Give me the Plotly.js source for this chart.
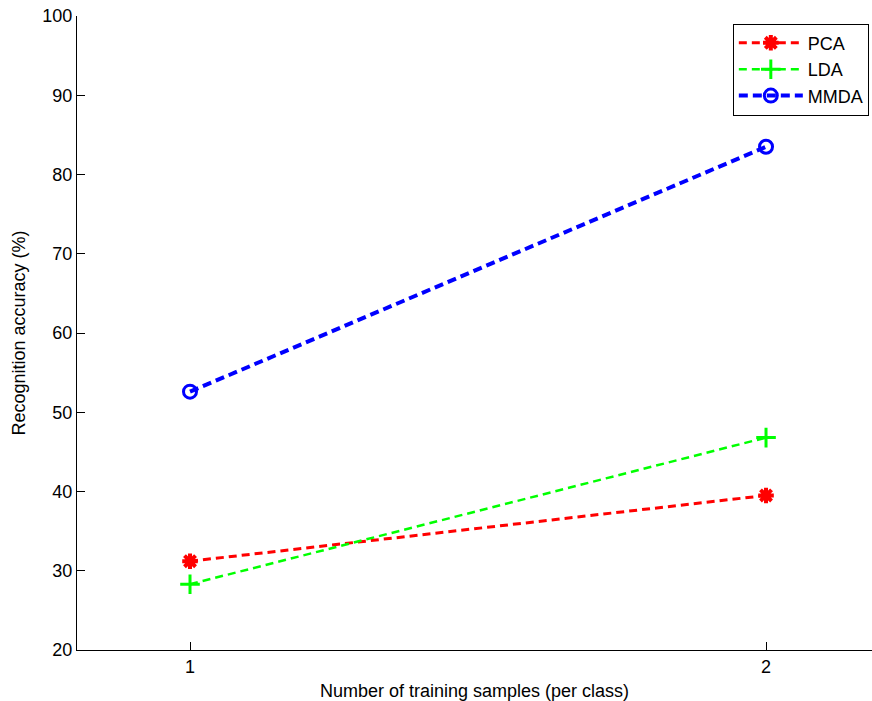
<!DOCTYPE html>
<html>
<head>
<meta charset="utf-8">
<script src="https://cdn.plot.ly/plotly-3.0.1.min.js"></script>
<style>html,body{margin:0;padding:0;background:#fff;}#chart{width:872px;height:701px;}</style>
</head>
<body>
<div id="chart"></div>
<script>
const samples = [1, 2];
const pcaAcc = [31.2, 39.5];
const ldaAcc = [28.3, 46.8];
const mmdaAcc = [52.6, 83.5];
const xTicks = [1, 2];
const yTicks = [20, 30, 40, 50, 60, 70, 80, 90, 100];

const traces = [
  {x: samples, y: pcaAcc, name: 'PCA', mode: 'lines+markers',
   line: {color: '#ff0000', width: 3, dash: '8px,5px'},
   marker: {symbol: 'asterisk-open', size: 13, color: '#ff0000', line: {color: '#ff0000', width: 4}}},
  {x: samples, y: ldaAcc, name: 'LDA', mode: 'lines+markers',
   line: {color: '#00ff00', width: 2.5, dash: '8px,5px'},
   marker: {symbol: 'cross-thin-open', size: 14, color: '#00ff00', line: {color: '#00ff00', width: 3}}},
  {x: samples, y: mmdaAcc, name: 'MMDA', mode: 'lines+markers',
   line: {color: '#0000ff', width: 4, dash: '9px,5px'},
   marker: {symbol: 'circle-open', size: 13, color: '#0000ff', line: {color: '#0000ff', width: 3}}}
];

const layout = {
  width: 872, height: 701,
  margin: {l: 77, r: 0, t: 16, b: 51},
  paper_bgcolor: '#fff', plot_bgcolor: '#fff',
  font: {family: 'Liberation Sans, Arial, sans-serif', size: 18, color: '#000'},
  showlegend: true,
  legend: {x: 0.996, y: 0.988, xanchor: 'right', yanchor: 'top',
           bordercolor: '#000', borderwidth: 1, bgcolor: '#fff',
           font: {size: 18}, tracegroupgap: 0, itemwidth: 64},
  xaxis: {range: [0.8038, 2.184], tickvals: xTicks, ticktext: xTicks.map(String),
          ticks: 'inside', ticklen: 8, tickcolor: '#000', showgrid: false, zeroline: false,
          showline: true, linecolor: '#000', linewidth: 1, mirror: false,
          tickfont: {size: 18}, automargin: false,
          title: {text: 'Number of training samples (per class)', standoff: 10, font: {size: 18}}},
  yaxis: {range: [20, 100], tickvals: yTicks, ticktext: yTicks.map(String),
          ticks: 'inside', ticklen: 8, tickcolor: '#000', showgrid: false, zeroline: false,
          showline: true, linecolor: '#000', linewidth: 1, mirror: false,
          tickfont: {size: 18}, automargin: false,
          title: {text: 'Recognition accuracy (%)', standoff: 12, font: {size: 18}}}
};

Plotly.newPlot('chart', traces, layout, {displayModeBar: false, staticPlot: true});
</script>
</body>
</html>
